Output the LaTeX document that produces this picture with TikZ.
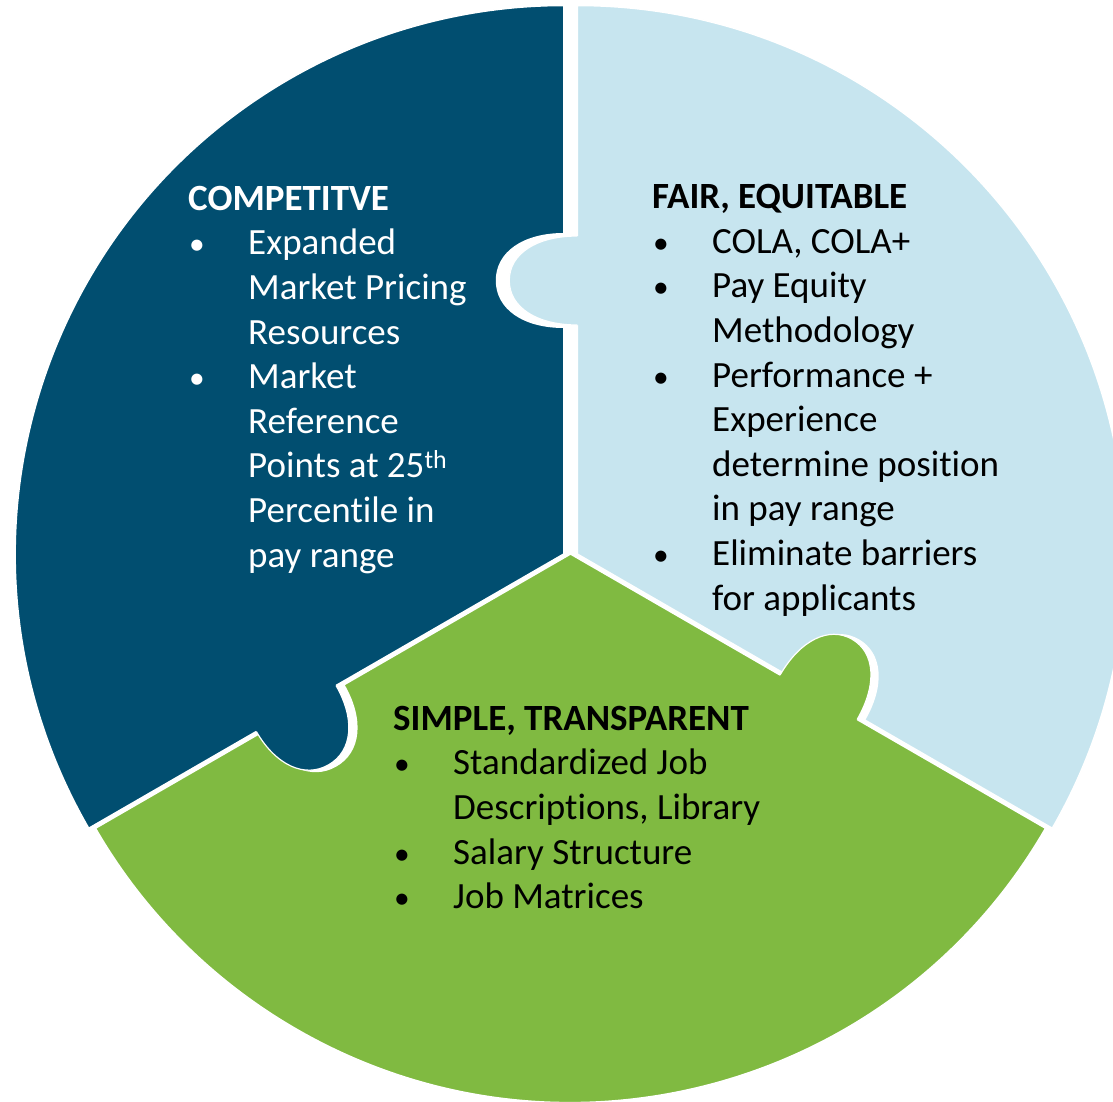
\documentclass[tikz,border=0pt]{standalone}
\usepackage{fontspec}
\setmainfont{Carlito}[Ligatures=NoCommon]
\definecolor{navy}{RGB}{1,78,112}
\definecolor{sky}{RGB}{199,229,239}
\definecolor{leaf}{RGB}{128,186,65}
\newcommand\myblt{\makebox[60pt][l]{\hspace*{1pt}\scalebox{0.85}{•}}}
\newcommand\myind{\hspace*{60pt}}
\tikzset{
  knobpath/.style n args={4}{insert path={({#1-#2},#4) -- ({#1-#2},0) .. controls ({#1-#2},{0.6*#3}) and ({#1-0.6*#2},#3) .. (#1,#3) .. controls ({#1+0.6*#2},#3) and ({#1+#2},{0.6*#3}) .. ({#1+#2},0) -- ({#1+#2},#4) -- cycle}},
  knobarc/.style n args={3}{insert path={({#1-#2},0) .. controls ({#1-#2},{0.6*#3}) and ({#1-0.6*#2},#3) .. (#1,#3) .. controls ({#1+0.6*#2},#3) and ({#1+#2},{0.6*#3}) .. ({#1+#2},0)}},
  sector/.style={draw=white, line width=1.5pt},
  rim/.style={draw=white, line width=1.2pt},
  vframe/.style={x={(0pt,1pt)}, y={(-1pt,0pt)}},
  rframe/.style={x={(0.866pt,-0.5pt)}, y={(0.5pt,0.866pt)}},
  lframe/.style={x={(-0.866pt,-0.5pt)}, y={(0.5pt,-0.866pt)}},
  block/.style={anchor=north west, inner sep=0pt, align=left, font=\fontsize{37}{44.6}\selectfont}
}
\begin{document}
\begin{tikzpicture}[x=1pt, y=-1pt]
\useasboundingbox (0,0) rectangle (1113,1101);
\clip (0,0) rectangle (1113,1101);
\coordinate (O) at (570.5,554);
\coordinate (Od) at (563.75,554);
\coordinate (Ol) at (577.25,554);
% sectors
\fill[navy, sector] (Od) -- ++(150:548.5) arc[start angle=150, end angle=270, radius=548.5] -- cycle;
\fill[sky, sector] (Ol) -- ++(-90:548.5) arc[start angle=-90, end angle=30, radius=548.5] -- cycle;
\fill[leaf, sector] (O) -- ++(30:548.5) arc[start angle=30, end angle=150, radius=548.5] -- cycle;
% light knob into dark
\begin{scope}[shift={(Od)}, vframe]
  \fill[white, knobpath={273.5}{47.5}{68}{-2}];
\end{scope}
\begin{scope}[shift={(Ol)}, vframe]
  \fill[sky, knobpath={273.5}{44.5}{68}{-2}];
  \draw[rim, knobarc={273.5}{44.5}{68}];
\end{scope}
% green knob into light
\begin{scope}[shift={(Ol)}, rframe]
  \fill[white, knobpath={286.5}{46}{67}{0}];
\end{scope}
\begin{scope}[shift={(O)}, rframe]
  \fill[leaf, knobpath={286.5}{44.5}{67}{-2}];
  \draw[rim, knobarc={286.5}{44.5}{67}];
\end{scope}
% dark knob into green
\begin{scope}[shift={(O)}, lframe]
  \fill[white, knobpath={309}{48}{67}{0}];
\end{scope}
\begin{scope}[shift={(Od)}, lframe]
  \fill[navy, knobpath={309}{46}{65}{-2}];
  \draw[rim, knobarc={309}{46}{65}];
\end{scope}
% texts
\node[block, text=white] (comp) at (188,180) {\rule{0pt}{30pt}\textbf{COMPETITVE}\\
\myblt Expanded\\
\myind Market Pricing\\
\myind Resources\\
\myblt Market\\
\myind Reference\\
\myind Points at 25\textsuperscript{th}\\
\myind Percentile in\\
\myind pay range};
\node[block, text=black] (fair) at (652,178.5) {\rule{0pt}{30pt}\textbf{FAIR, EQUITABLE}\\
\myblt COLA, COLA+\\
\myblt Pay Equity\\
\myind Methodology\\
\myblt Performance +\\
\myind Experience\\
\myind determine position\\
\myind in pay range\\
\myblt Eliminate barriers\\
\myind for applicants};
\node[block, text=black] (simple) at (393,700) {\rule{0pt}{30pt}\textbf{SIMPLE, TRANSPARENT}\\
\myblt Standardized Job\\
\myind Descriptions, Library\\
\myblt Salary Structure\\
\myblt Job Matrices};
\end{tikzpicture}
\end{document}
